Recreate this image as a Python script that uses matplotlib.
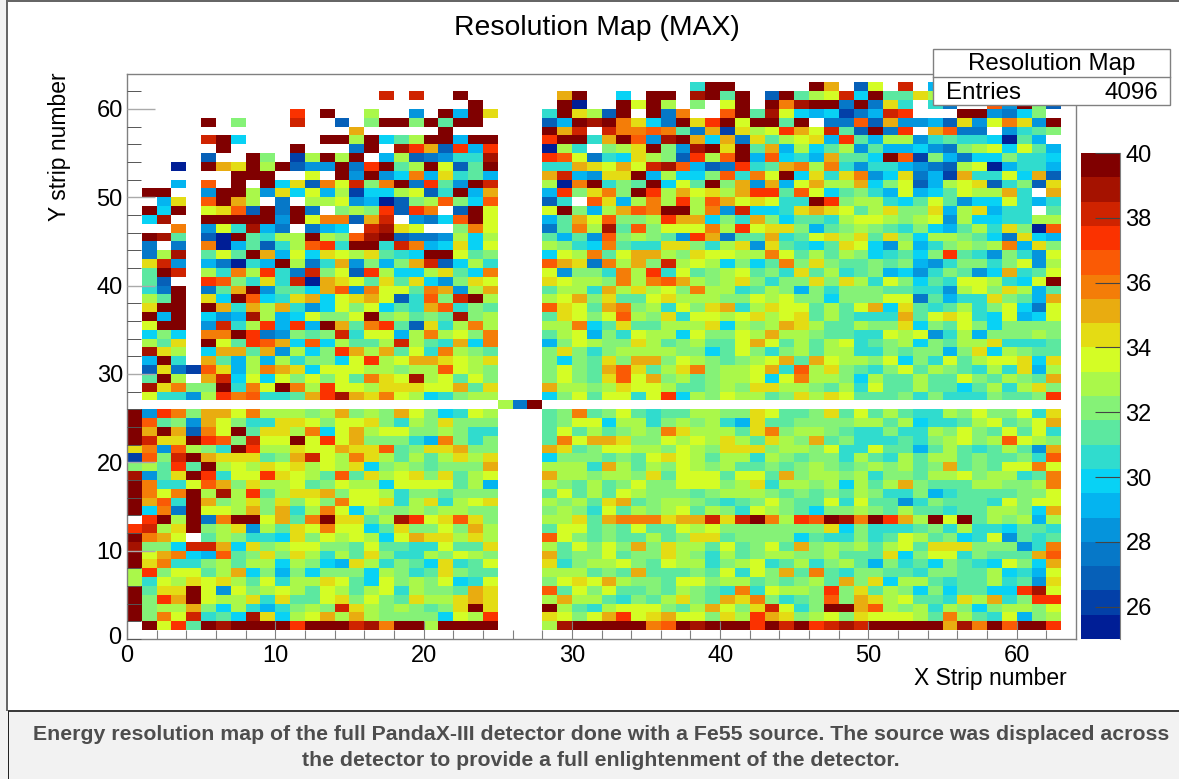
#!/usr/bin/env python3
"""Resolution map (MAX) of the PandaX-III detector, ROOT style."""

import matplotlib
matplotlib.use('Agg')
import matplotlib.pyplot as plt
from matplotlib.colors import BoundaryNorm, ListedColormap
from matplotlib.patches import Rectangle
import numpy as np

plt.rcParams['font.family'] = ['Liberation Sans', 'DejaVu Sans']

W, H = 1179, 779

# palette levels, low to high, one letter per level in the rows below
level_codes = 'abcdefghijklmnopqrst'
level_colors = ['#001e96', '#0340a8', '#0660b8', '#0678c8', '#0594dc',
                '#04b4f0', '#08d2f5', '#30dcce', '#5ce8a0', '#85f277',
                '#aaf84a', '#d4fd25', '#e4dc14', '#e9ac10', '#f47d08',
                '#fa5a05', '#fb3200', '#cf2300', '#a51200', '#800000']
z_min, z_max = 25.0, 40.0
y_ticks = [0, 10, 20, 30, 40, 50, 60]
x_ticks = [0, 10, 20, 30, 40, 50, 60]
z_ticks = [26, 28, 30, 32, 34, 36, 38, 40]

# x 0..24, y 61 down to 27
left_upper = [
    ".................r.r..t..",
    ".......................t.",
    "...........q.t..k..e.tftm",
    ".....t.j...r..c.jttjtitt.",
    "...............n.....t...",
    ".....rtg.....ttktgikttftt",
    "......t....t...dt.sqncqfq",
    ".....c..tj.bktkt.fkcdehhs",
    "...a.tnmtktceetdqtiktlcit",
    ".......ttt..l.tetegofmhif",
    "...f.p.t.tgmcolrjotdqietr",
    ".tt..ettkemglfkbggklchtfn",
    "..fm.ptnk.d.kklefacjkpjgp",
    ".tgt.lmpctdtd.jkjqcqo.ctl",
    ".gs..tttttetloocnr.edgptl",
    "...o.elhsfd.dfg.rsml..jol",
    ".tsi.catihkktkjpstcddekgk",
    ".d.d.oafichkpqhtthrofgmgl",
    ".dks.ilitnflgmlkmihgttlij",
    ".mre.fdahftkdhnejfjnrcgkh",
    ".itr.khokqhdrjlcqkggkmigo",
    ".ic..qpjhmhranmlimimgejml",
    ".hdt.dinteiignpeollionekn",
    ".kit.mgtpghmnglmnlchpjrtk",
    ".mtt.tnhnknhegljlgihnphji",
    ".tft.gefskfgljjltjkijisjk",
    ".ltt.erhkqfqftnioqicmhkok",
    ".gjg.ootqdejijrhllfkokljo",
    ".kim.tliqpngpgkiikrkihngo",
    ".smk.gnninekgjqnknilhokji",
    ".fth.nifkfkhjjglqklnnmlkm",
    ".cmdbpmfkonmglllkkjkkplkj",
    ".itk.nrglgljljliomlsklilj",
    ".smojjtholtokqllkmmmllnim",
    ".lhhekqophhinqsnmolkghjkk",
]

# x 0..24, y 25 down to 1
left_lower = [
    "teqojnnlokkkjknjkjnljghlk",
    "tpijenljhhmmljllmjhkjmjjj",
    "tntncoltimmkoglnklljjkjhh",
    "trmmtqpjrlltlqlnjjjhfojhj",
    "moepkjhtqkkmllnmmpijmmnjj",
    "bpjrtnmmmijnrlkomkikikmkm",
    "jkiqitklkmlmklkmgjkjijjjn",
    "seimtqhllqmlkipimklmjmikl",
    "tohhlpnjmkklijlkkgllllikf",
    "tolotkskqikmmnjllkhjjijjj",
    "tnphtnjkmjmjljollmhkmhklm",
    "tgodtllknjnhkolgkjjkjkkjj",
    ".qtktdottlniotmmiksqlmpmj",
    "qrkmtjkmekimlollgimjjljnk",
    "tonl.ikjhhgmjlklkglnmmkmk",
    "sjjgrrngmjklljjiliihhliim",
    "tlnogfpijmjmkhkimjhhkjlkj",
    "tmohhjkikkgkjgfmkhjigmhil",
    "kqjllikngjfjgjjjgkjhimjii",
    "khlkmlmkilhkkmligljkjlghl",
    "timmtleljklkilkiklhkjjinm",
    "tjqntlkkmhmiilmjljimkkmnm",
    "tjkknjgkhfhjkjrmkjkjijmtm",
    "tjolrhigsmgklnknkjjjjglkq",
    ".tlqitsttttqtttrsottktttt",
]

# x 25..27 at y 26
gap_row = "kdt"

# x 28..62, y 62 down to 27
right_upper = [
    "..........htt.....tn.cl.r.f........",
    ".nt..g.tt.stit.ctiklrgtiimk........",
    ".ta..tltk.j.lt.tosttdtdmh.hd..petjc",
    "htmkct.tdo..ptislgfgbdfrq...ttedgj.",
    "cftstomgdtmqtlttit.ddpcneefcmelomet",
    "tnr.roopoidnbmklqnlrictdq.npdd.ehij",
    "qtthntpestngndmiklmfqifkkehihhgaif.",
    "akh.jkmtjestmtinfkgikeiffgedjklglif",
    "qpldhgmkjcqkptfpghfniigtpbjfdggjhhg",
    "hhnmlnlrspfcdqhinokohehhfedcklafhhf",
    "nrfemmtfkggjpholtgmhmoegmdfbnhhlgnc",
    "kaothjitglitjnenflnkkngjlcfklmchjcm",
    "fqjmojtqknlmknqqiplgijhflfgilkknh.n",
    "ch.pmfkokqkpnlmlhhtqjkkhgiliegglhfh",
    "ltjfknpottkoergghmnmlikmjjmfkmfhh.i",
    "finlpjjkqnngjhnjgiihkllkjklekgghhkk",
    "dioksipjlllokqlmmjfijkjihjgfikhmjap",
    "ifiepjkjieqndiinhilmkmimjgkkjigdmgf",
    "kjhgoihhmmjhkmemihgimlgekfhjkjkofmj",
    "glkoilnnkjmllkkolikikjghigjqihejhel",
    "pnmdoknjrklkgjgiojmjiijijfehjjhjlek",
    "lejjhokqhlijklijhmikhijfgehjiegnhil",
    "mlkkjokopnkjkmjhjjmjmkhljgihllkhglt",
    "ikkhnkmkljokkhikjfjhjjjiihhekljmkfi",
    "klnjmiilmkkkjjlkljjgjjjlldifhhmjifn",
    "pmlinojkhljmnhkmllikilngmihikhjlgdl",
    "imljlpkjmhllklmklmikihhhnilmlhglfgl",
    "kkogimiikkkmgkjknmkiikjjmgjiljgjjjj",
    "iklfjhlkkgljjlknkkjiihhlklehkfjjjkj",
    "fjlkjjmkijkiilnlikiklhijkgjikkmhhhi",
    "jmjhjkkkkjjgiljhjkikkhhjijjfjmgkjii",
    "jgjimjnnjlkjijklninlkkjlgjhlikllmgm",
    "jljinpmikmojkklnhpkmjihjlikjihkhmfk",
    "jljimplnjkijkklglokkjgkiikiiljikjin",
    "nkkjkmllkiijkjmmkkjikhliikiigikhkmj",
    "gjlillhlqgkjlkkijmkmliiijhjhhhjiijq",
]

# x 28..62, y 25 down to 1
right_lower = [
    "ijoijlihiikkjjmliijmilikihhkjljjlhm",
    "ijllgkkhjkjkhfmiijjjjkkikghhiklijln",
    "ilikijkjomkkkimojkkjihhjhhkjljililh",
    "iolnnmjjlklkmkimkjnijhhhihjkljkplkj",
    "nmijllkkjlkjmmmjkkjlhhliifikihikien",
    "gjjjijilmlkikkhkjijjhkihkikkijiijhp",
    "kkkhnkikjlkjkiijijkjijkjkijnijillol",
    "nkkjkkjmilllillinjkkjkhjjikkljkkhio",
    "kjikijljjllljkmhkkjkgkiknjiiikkjjko",
    "ilikilkjjjijkkkjijijikjhhjfhiiiijjl",
    "kjkimnijkkjihijljiilhliiehjiiihljll",
    "jkjhlikjklikjhlkjigjjkjikiihiikkjgn",
    "kkminooomnnrmrtokqptsotqnktltikjkfk",
    "illijiliilkljjjjjjjmgjhhhijhkhhgiih",
    "pljijiikijmmijjjjgihhjhilkijghleihi",
    "kiljljnjmkkilijlinjkjkiklimmmjjjeho",
    "nijjlijjmkjhkijkkjjkiiimgjllhjiiinp",
    "mhjkkljilkkhjklhikhjkifjhigjihgljgn",
    "kkkijiniiijilhljnioihjjiihjjiikghfl",
    "jlmlnkjjilljkkijijkinjmgkkihiikhiem",
    "piljliijikjihohlkkjqjmikjgjgiiggqsl",
    "knkkihjikmjinmojhijpjnmkliihmknhjqq",
    "tkihkllljiknljmrlhjttnpkjkhkjgjkkjl",
    "mljlnqlmnlljmkqnmjkljmlllkiokihlfjk",
    "kstttttoptstttqtrtqrsrtttttnsotpttq",
]


def px_rect(x0, y0, x1, y1):
    """pixel box, y counted from the top, to figure fractions"""
    return [x0 / W, 1 - y1 / H, (x1 - x0) / W, (y1 - y0) / H]


def put_rows(grid, rows, x_start, y_start):
    step = (z_max - z_min) / len(level_codes)
    for r, row in enumerate(rows):
        for c, code in enumerate(row):
            if code != '.':
                value = z_min + step * (level_codes.index(code) + 0.5)
                grid[y_start - r, x_start + c] = value


grid = np.full((64, 64), np.nan)
put_rows(grid, left_upper, 0, 61)
put_rows(grid, left_lower, 0, 25)
put_rows(grid, [gap_row], 25, 26)
put_rows(grid, right_upper, 28, 62)
put_rows(grid, right_lower, 28, 25)

edges = np.linspace(z_min, z_max, len(level_colors) + 1)
cmap = ListedColormap(level_colors)
cmap.set_bad('white')
norm = BoundaryNorm(edges, cmap.N)

fig = plt.figure(figsize=(W / 100, H / 100), dpi=100, facecolor='white')

# page around the plot
page = '#f2f2f2'
fig.add_artist(Rectangle((0, 0), 7 / W, 1, transform=fig.transFigure, color=page, lw=0))
fig.add_artist(Rectangle((0, 0), 1, 68 / H, transform=fig.transFigure, color=page, lw=0))
fig.add_artist(Rectangle((6 / W, 68 / H), 2 / W, 1 - 68 / H, transform=fig.transFigure, color='#666666', lw=0))
fig.add_artist(Rectangle((6 / W, 1 - 2 / H), 1 - 6 / W, 2 / H, transform=fig.transFigure, color='#666666', lw=0))
fig.add_artist(Rectangle((8 / W, 67 / H), 1 - 8 / W, 2 / H, transform=fig.transFigure, color='#3c3c3c', lw=0))
fig.add_artist(Rectangle((8 / W, 0), 1 / W, 68 / H, transform=fig.transFigure, color='#222222', lw=0))

gray = '#808080'

# main map
ax = fig.add_axes(px_rect(127, 73.5, 1076, 639))
ax.pcolormesh(np.arange(65), np.arange(65), np.ma.masked_invalid(grid),
              cmap=cmap, norm=norm, linewidth=0, rasterized=True)
ax.set_xlim(0, 64)
ax.set_ylim(0, 64)
for spine in ax.spines.values():
    spine.set_color(gray)
    spine.set_linewidth(1)
ax.set_xticks(x_ticks)
ax.set_yticks([t for t in y_ticks if t != 0])
ax.set_xticks(np.arange(0, 64, 2), minor=True)
ax.set_yticks(np.arange(0, 64, 2), minor=True)
ax.tick_params(axis='x', which='major', direction='in', length=13, width=0.8,
               color=gray, labelsize=17, pad=4)
ax.tick_params(axis='x', which='minor', direction='in', length=6.5, width=0.8, color=gray)
ax.tick_params(axis='y', which='major', direction='in', length=20, width=1,
               color='#aaaaaa', labelsize=17, pad=3)
ax.tick_params(axis='y', which='minor', direction='in', length=10, width=0.7, color='#555555')
ax.set_axisbelow(False)

fig.text(115 / W, 1 - 638 / H, '0', fontsize=17, ha='center', va='center')
fig.text(597 / W, 1 - 28 / H, 'Resolution Map (MAX)', fontsize=20.4, ha='center', va='center')
fig.text(60 / W, 1 - 72 / H, 'Y strip number', fontsize=16.5, rotation=90, ha='center', va='top')
fig.text(1067 / W, 1 - 678 / H, 'X Strip number', fontsize=16.5, ha='right', va='center')

# colour bar
cax = fig.add_axes(px_rect(1081, 153, 1120, 639))
cax.pcolormesh([0, 1], edges, np.array(edges[:-1] + 0.01).reshape(-1, 1),
               cmap=cmap, norm=norm, linewidth=0)
cax.set_xlim(0, 1)
cax.set_ylim(z_min, z_max)
cax.set_xticks([])
cax.yaxis.tick_right()
cax.set_yticks(z_ticks)
cax.tick_params(axis='y', direction='in', length=18, width=0.8, color='#444444',
                labelsize=17, pad=4)
for name, spine in cax.spines.items():
    spine.set_visible(name == 'right')
    spine.set_color(gray)

# stats box
fig.add_artist(Rectangle((933 / W, 1 - 105 / H), 237 / W, 56 / H, transform=fig.transFigure,
                         facecolor='white', edgecolor=gray, lw=1, zorder=5))
fig.add_artist(plt.Line2D([933 / W, 1170 / W], [1 - 77 / H, 1 - 77 / H], color=gray, lw=1, zorder=6))
fig.text(1052 / W, 1 - 64 / H, 'Resolution Map', fontsize=17.4, ha='center', va='center', zorder=7)
fig.text(946 / W, 1 - 93 / H, 'Entries', fontsize=17.4, ha='left', va='center', zorder=7)
fig.text(1158 / W, 1 - 93 / H, '4096', fontsize=17.4, ha='right', va='center', zorder=7)

# caption
cap = '#4d4d4d'
fig.text(601 / W, 1 - 734 / H,
         'Energy resolution map of the full PandaX-III detector done with a Fe55 source. '
         'The source was displaced across',
         fontsize=15.3, fontweight='bold', color=cap, ha='center', va='center')
fig.text(601 / W, 1 - 760 / H, 'the detector to provide a full enlightenment of the detector.',
         fontsize=15.3, fontweight='bold', color=cap, ha='center', va='center')

fig.savefig('out.png', dpi=100, facecolor='white')
